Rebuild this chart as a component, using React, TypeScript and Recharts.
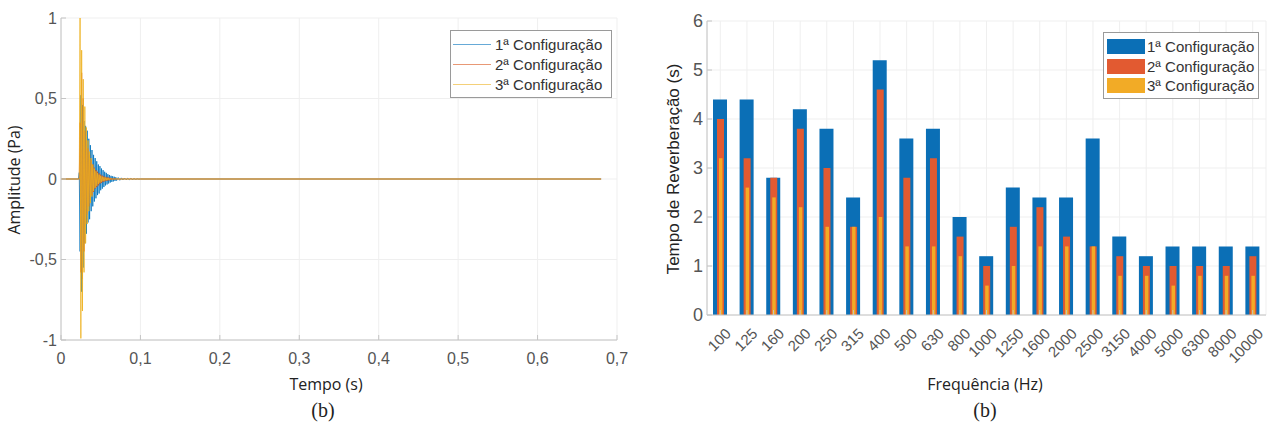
import React from 'react';
import { LineChart, Line, BarChart, Bar, XAxis, YAxis, CartesianGrid, Legend } from 'recharts';

const tempo = [
  0, 0.02, 0.022,
  0.023, 0.024, 0.025, 0.026, 0.027, 0.028, 0.029, 0.03,
  0.031, 0.032, 0.033, 0.034, 0.035, 0.036, 0.037, 0.038, 0.039, 0.04,
  0.041, 0.042, 0.043, 0.044, 0.045, 0.046, 0.047, 0.048, 0.049, 0.05,
  0.051, 0.052, 0.053, 0.054, 0.055, 0.056, 0.057, 0.058, 0.059, 0.06,
  0.061, 0.062, 0.063, 0.064, 0.065, 0.066, 0.067, 0.068, 0.069, 0.07,
  0.072, 0.074, 0.076, 0.078, 0.08, 0.082, 0.084, 0.086, 0.088, 0.09, 0.092, 0.094, 0.096, 0.098, 0.1,
  0.12, 0.2, 0.4, 0.68,
];

const config1 = [
  0, 0, 0,
  0.04, -0.45, 0.52, -0.7, 0.46, -0.55, 0.36, -0.4,
  0.33, -0.34, 0.3, -0.27, 0.25, -0.25, 0.21, -0.2, 0.18, -0.17,
  0.15, -0.14, 0.13, -0.12, 0.11, -0.1, 0.09, -0.09, 0.08, -0.07,
  0.065, -0.06, 0.055, -0.05, 0.045, -0.04, 0.038, -0.034, 0.03, -0.028,
  0.025, -0.022, 0.02, -0.018, 0.017, -0.015, 0.014, -0.012, 0.011, -0.01,
  0.009, -0.008, 0.007, -0.006, 0.006, -0.005, 0.004, -0.004, 0.003, -0.003, 0.002, -0.002, 0.001, -0.001, 0,
  0, 0, 0, 0,
];

const config2 = [
  0, 0, 0,
  0, 0.35, -0.58, 0.66, -0.62, 0.5, -0.45, 0.3,
  -0.28, 0.24, -0.22, 0.19, -0.17, 0.15, -0.13, 0.12, -0.1, 0.09,
  -0.08, 0.07, -0.06, 0.055, -0.05, 0.045, -0.04, 0.035, -0.03, 0.027,
  -0.024, 0.021, -0.019, 0.017, -0.015, 0.013, -0.012, 0.011, -0.01, 0.009,
  -0.008, 0.007, -0.006, 0.006, -0.005, 0.005, -0.004, 0.004, -0.003, 0.003,
  -0.003, 0.002, -0.002, 0.002, -0.001, 0.001, -0.001, 0.001, 0, 0, 0, 0, 0, 0, 0,
  0, 0, 0, 0,
];

const config3 = [
  0, 0, 0,
  0, 1.0, -0.99, 0.8, -0.82, 0.62, -0.58, 0.45,
  -0.4, 0.32, -0.28, 0.24, -0.2, 0.17, -0.15, 0.13, -0.11, 0.09,
  -0.075, 0.065, -0.055, 0.048, -0.042, 0.036, -0.031, 0.027, -0.023, 0.02,
  -0.017, 0.015, -0.013, 0.011, -0.01, 0.009, -0.008, 0.007, -0.006, 0.005,
  -0.004, 0.004, -0.003, 0.003, -0.003, 0.002, -0.002, 0.002, -0.001, 0.001,
  0, 0, 0, 0, 0, 0, 0, 0, 0, 0, 0, 0, 0, 0, 0,
  0, 0, 0, 0,
];

const ticksTempo = [0, 0.1, 0.2, 0.3, 0.4, 0.5, 0.6, 0.7];
const ticksAmplitude = [-1, -0.5, 0, 0.5, 1];

// tempo de reverberação por banda
const frequencias = ['100', '125', '160', '200', '250', '315', '400', '500', '630', '800', '1000',
  '1250', '1600', '2000', '2500', '3150', '4000', '5000', '6300', '8000', '10000'];
const tr1 = [4.4, 4.4, 2.8, 4.2, 3.8, 2.4, 5.2, 3.6, 3.8, 2.0, 1.2, 2.6, 2.4, 2.4, 3.6, 1.6, 1.2, 1.4, 1.4, 1.4, 1.4];
const tr2 = [4.0, 3.2, 2.8, 3.8, 3.0, 1.8, 4.6, 2.8, 3.2, 1.6, 1.0, 1.8, 2.2, 1.6, 1.4, 1.2, 1.0, 1.0, 1.0, 1.0, 1.2];
const tr3 = [3.2, 2.6, 2.4, 2.2, 1.8, 1.8, 2.0, 1.4, 1.4, 1.2, 0.6, 1.0, 1.4, 1.4, 1.4, 0.8, 0.8, 0.6, 0.8, 0.8, 0.8];
const ticksTR = [0, 1, 2, 3, 4, 5, 6];

const nomes = ['1ª Configuração', '2ª Configuração', '3ª Configuração'];
const coresLinha = ['#0072BD', '#D95319', '#EDB120'];
const coresBarra = ['#0B6FB6', '#E25A31', '#F2AB26'];

const impulso = tempo.map((t, i) => ({ t, c1: config1[i], c2: config2[i], c3: config3[i] }));
const reverb = frequencias.map((f, i) => ({ f, c1: tr1[i], c2: tr2[i], c3: tr3[i] }));

const virgula = (v: number) => String(v).replace('.', ',');

const AXIS = '#c4c4c4';
const GRID = '#efefef';
const TICK = '#555555';
const SANS = '"Liberation Sans", Arial, sans-serif';

function LegendaLinhas() {
  return (
    <div style={{ border: '1px solid #9a9a9a', background: '#fff', padding: '3px 0 3px 2px', boxSizing: 'border-box', width: 162, whiteSpace: 'nowrap' }}>
      {nomes.map((n, i) => (
        <div key={n} style={{ display: 'flex', alignItems: 'center', height: 20 }}>
          <div style={{ width: 38, height: 1, background: coresLinha[i], opacity: 0.6, marginRight: 4, flexShrink: 0 }} />
          <span style={{ fontFamily: SANS, fontSize: 15, color: '#333' }}>{n}</span>
        </div>
      ))}
    </div>
  );
}

function LegendaBarras() {
  return (
    <div style={{ border: '1px solid #9a9a9a', background: '#fff', padding: '4px 0 2px 3px', boxSizing: 'border-box', width: 156, whiteSpace: 'nowrap' }}>
      {nomes.map((n, i) => (
        <div key={n} style={{ display: 'flex', alignItems: 'center', height: 19.5 }}>
          <div style={{ width: 38, height: 15, background: coresBarra[i], marginRight: 2, flexShrink: 0 }} />
          <span style={{ fontFamily: SANS, fontSize: 15, color: '#333' }}>{n}</span>
        </div>
      ))}
    </div>
  );
}

const titulo = (texto: string, left: number, top: number, size: number, font: string, rot = false) => (
  <div style={{
    position: 'absolute', left, top, whiteSpace: 'nowrap', fontFamily: font, fontSize: size, color: '#222',
    transform: `translate(-50%, -50%)${rot ? ' rotate(-90deg)' : ''}`,
  }}>{texto}</div>
);

export default function App() {
  return (
    <div style={{ position: 'absolute', left: 0, top: 0, width: 1272, height: 428, background: '#fff', overflow: 'hidden' }}>
      <div style={{ position: 'absolute', left: 0, top: 0 }}>
        <LineChart width={640} height={428} data={impulso} margin={{ top: 18, right: 23, bottom: 0, left: 0 }}>
          <CartesianGrid stroke={GRID} />
          <XAxis dataKey="t" type="number" domain={[0, 0.7]} ticks={ticksTempo} tickFormatter={virgula}
            height={88} stroke={AXIS} tickSize={-5} tickMargin={18}
            tick={{ fill: TICK, fontSize: 16, fontFamily: SANS }} />
          <XAxis xAxisId="topo" orientation="top" dataKey="t" type="number" domain={[0, 0.7]} ticks={ticksTempo}
            height={0} stroke={AXIS} tickSize={-5} tick={false} />
          <YAxis domain={[-1, 1]} ticks={ticksAmplitude} tickFormatter={virgula} width={61} stroke={AXIS}
            tickSize={-5} tickMargin={9} tick={{ fill: TICK, fontSize: 16, fontFamily: SANS }} />
          <YAxis yAxisId="dir" orientation="right" domain={[-1, 1]} ticks={ticksAmplitude} width={0}
            stroke={AXIS} tickSize={-5} tick={false} />
          <Legend layout="horizontal" verticalAlign="middle" align="center" content={() => <LegendaLinhas />}
            wrapperStyle={{ top: 30, left: 450, width: 162 }} />
          <Line dataKey="c1" stroke={coresLinha[0]} strokeWidth={0.8} dot={false} isAnimationActive={false} />
          <Line dataKey="c2" stroke={coresLinha[1]} strokeWidth={0.8} dot={false} isAnimationActive={false} />
          <Line dataKey="c3" stroke={coresLinha[2]} strokeWidth={0.8} dot={false} isAnimationActive={false} />
        </LineChart>
      </div>

      <div style={{ position: 'absolute', left: 640, top: 0 }}>
        <BarChart width={632} height={428} data={reverb} margin={{ top: 21, right: 6, bottom: 0, left: 0 }}>
          <CartesianGrid stroke={GRID} xAxisId="a" />
          <XAxis xAxisId="a" dataKey="f" height={113} stroke={AXIS} tickSize={-5} tickMargin={5}
            interval={0} angle={-45} textAnchor="end"
            tick={{ fill: TICK, fontSize: 15, fontFamily: SANS, angle: -45, textAnchor: 'end', dx: 4, dy: 12 }} />
          <XAxis xAxisId="b" dataKey="f" hide />
          <XAxis xAxisId="c" dataKey="f" hide />
          <XAxis xAxisId="topo" orientation="top" dataKey="f" height={0} stroke={AXIS} tickSize={-5}
            interval={0} tick={false} />
          <YAxis domain={[0, 6]} ticks={ticksTR} width={67} stroke={AXIS} tickSize={-5} tickMargin={9}
            tick={{ fill: TICK, fontSize: 18, fontFamily: SANS }} />
          <YAxis yAxisId="dir" orientation="right" domain={[0, 6]} ticks={ticksTR} width={0} stroke={AXIS}
            tickSize={-5} tick={false} />
          <Legend layout="horizontal" verticalAlign="middle" align="center" content={() => <LegendaBarras />}
            wrapperStyle={{ top: 32, left: 463, width: 156 }} />
          <Bar xAxisId="a" dataKey="c1" barSize={14} fill={coresBarra[0]} isAnimationActive={false} />
          <Bar xAxisId="b" dataKey="c2" barSize={7} fill={coresBarra[1]} isAnimationActive={false} />
          <Bar xAxisId="c" dataKey="c3" barSize={3.5} fill={coresBarra[2]} isAnimationActive={false} />
        </BarChart>
      </div>

      {titulo('Amplitude (Pa)', 14, 180, 16, '"Open Sans", sans-serif', true)}
      {titulo('Tempo (s)', 326, 384, 16, '"Open Sans", sans-serif')}
      {titulo('(b)', 323, 410, 20, '"Liberation Serif", "Times New Roman", serif')}
      {titulo('Tempo de Reverberação (s)', 674, 169, 17, SANS, true)}
      {titulo('Frequência (Hz)', 985, 384, 16, '"Open Sans", sans-serif')}
      {titulo('(b)', 985, 410, 20, '"Liberation Serif", "Times New Roman", serif')}
    </div>
  );
}
